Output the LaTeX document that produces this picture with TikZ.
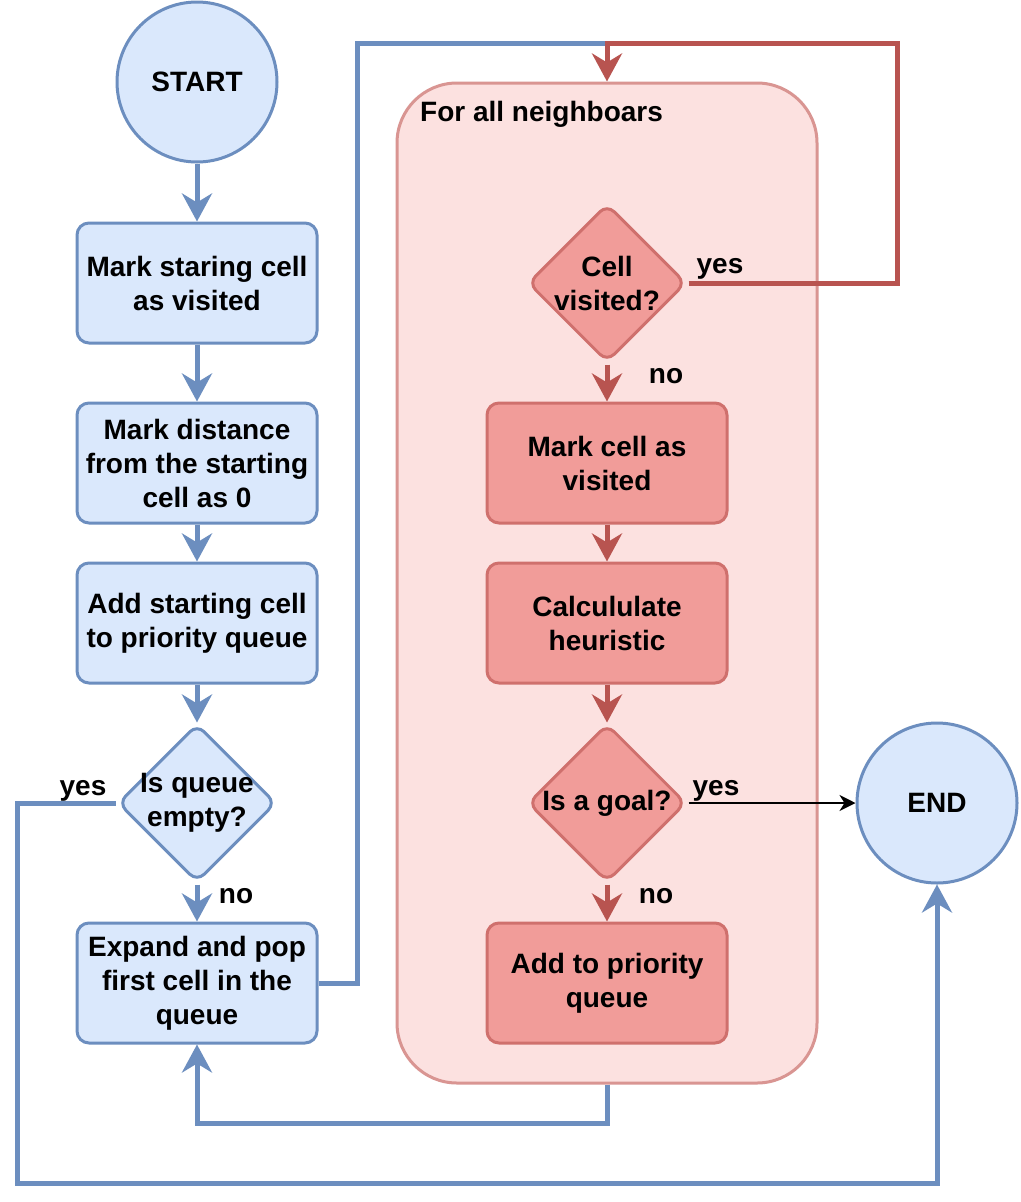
\documentclass[tikz,border=0pt]{standalone}
\usepackage{fontspec}
\setmainfont{Liberation Sans}
\usetikzlibrary{shapes.geometric,arrows.meta}
\definecolor{bstroke}{HTML}{6C8EBF}
\definecolor{bfill}{HTML}{DAE8FC}
\definecolor{rline}{HTML}{B85450}
\definecolor{rfill}{HTML}{F19C99}
\definecolor{rborder}{HTML}{CF706D}
\definecolor{cfill}{HTML}{FCE1E0}
\definecolor{cborder}{HTML}{D99592}
\tikzset{
  txt/.style={font=\fontsize{28pt}{34pt}\selectfont\bfseries, text=black, align=center},
  bbox/.style={txt, rectangle, rounded corners=12pt, draw=bstroke, fill=bfill, line width=3pt, minimum width=240pt, minimum height=120pt, inner sep=0pt},
  rbox/.style={txt, rectangle, rounded corners=12pt, draw=rborder, fill=rfill, line width=3pt, minimum width=240pt, minimum height=120pt, inner sep=0pt},
  bcirc/.style={txt, circle, draw=bstroke, fill=bfill, line width=3pt, minimum size=160pt, inner sep=0pt},
  bdiam/.style={diamond, rounded corners=10pt, draw=bstroke, fill=bfill, line width=3pt, minimum width=158pt, minimum height=158pt, inner sep=0pt},
  rdiam/.style={diamond, rounded corners=10pt, draw=rborder, fill=rfill, line width=3pt, minimum width=158pt, minimum height=158pt, inner sep=0pt},
  lbl/.style={txt, inner sep=0pt},
  bline/.style={draw=bstroke, line width=5pt},
  rlinesty/.style={draw=rline, line width=5pt},
  bigtip/.style={-{Stealth[length=28pt,width=30pt,inset=9pt]}},
}
\begin{document}
\begin{tikzpicture}[x=1pt,y=-1pt]
\useasboundingbox[fill=white] (0,0) rectangle (1020,1202);

% container
\node[rectangle, rounded corners=60pt, draw=cborder, fill=cfill, line width=3pt, minimum width=420pt, minimum height=1000pt, inner sep=0pt] (cont) at (607,583) {};
\node[lbl, anchor=west] (contlbl) at (420,114) {For all neighboars};

% left column
\node[bcirc] (start) at (197,82) {START};
\node[bbox] (b1) at (197,283) {Mark staring cell\\as visited};
\node[bbox] (b2) at (197,463) {Mark distance\\from the starting\\cell as 0};
\node[bbox] (b3) at (197,623) {Add starting cell\\to priority queue};
\node[bdiam] (d1) at (197,803) {};
\node[lbl] (d1t) at (197,803) {Is queue\\empty?};
\node[bbox] (b4) at (197,983) {Expand and pop\\first cell in the\\queue};

% right column
\node[rdiam] (d2) at (607,283) {};
\node[lbl] (d2t) at (607,283) {Cell\\visited?};
\node[rbox] (r1) at (607,463) {Mark cell as\\visited};
\node[rbox] (r2) at (607,623) {Calcululate\\heuristic};
\node[rdiam] (d3) at (607,803) {};
\node[lbl] (d3t) at (607,803) {Is a goal?};
\node[rbox] (r3) at (607,983) {Add to priority\\queue};

\node[bcirc] (end) at (937,803) {END};

% labels
\node[lbl] (yes1) at (83,791) {yes};
\node[lbl] (no1) at (236,896) {no};
\node[lbl] (yes2) at (720,269) {yes};
\node[lbl] (no2) at (666,376) {no};
\node[lbl] (yes3) at (716,791) {yes};
\node[lbl] (no3) at (656,896) {no};

% coordinates
\coordinate (c1) at (17,1183);
\coordinate (c2) at (357,43);
\coordinate (c3) at (607,43);
\coordinate (c4) at (897,43);
\coordinate (c5) at (197,1123);

% blue connectors
\draw[bline, bigtip] (start) -- (b1);
\draw[bline, bigtip] (b1) -- (b2);
\draw[bline, bigtip] (b2) -- (b3);
\draw[bline, bigtip] (b3) -- (d1);
\draw[bline, bigtip, shorten <=1pt] (d1) -- (b4);
\draw[bline, bigtip] ([xshift=-1pt]d1.west) -| (c1) -| (end.south);
\draw[bline] (b4.east) -| (c2) -- (c3);
\draw[bline, bigtip] (cont.south) |- (c5) -- (b4.south);

% red connectors
\draw[rlinesty, bigtip] ([xshift=1pt]d2.east) -| (c4) -| (cont.north);
\draw[rlinesty, bigtip, shorten <=1pt] (d2) -- (r1);
\draw[rlinesty, bigtip] (r1) -- (r2);
\draw[rlinesty, bigtip] (r2) -- (d3);
\draw[rlinesty, bigtip, shorten <=1pt] (d3) -- (r3);

% black connector
\draw[black, line width=2pt, -{Stealth[length=16pt,width=16pt,inset=5pt]}] ([xshift=1pt]d3.east) -- (end.west);
\end{tikzpicture}
\end{document}
